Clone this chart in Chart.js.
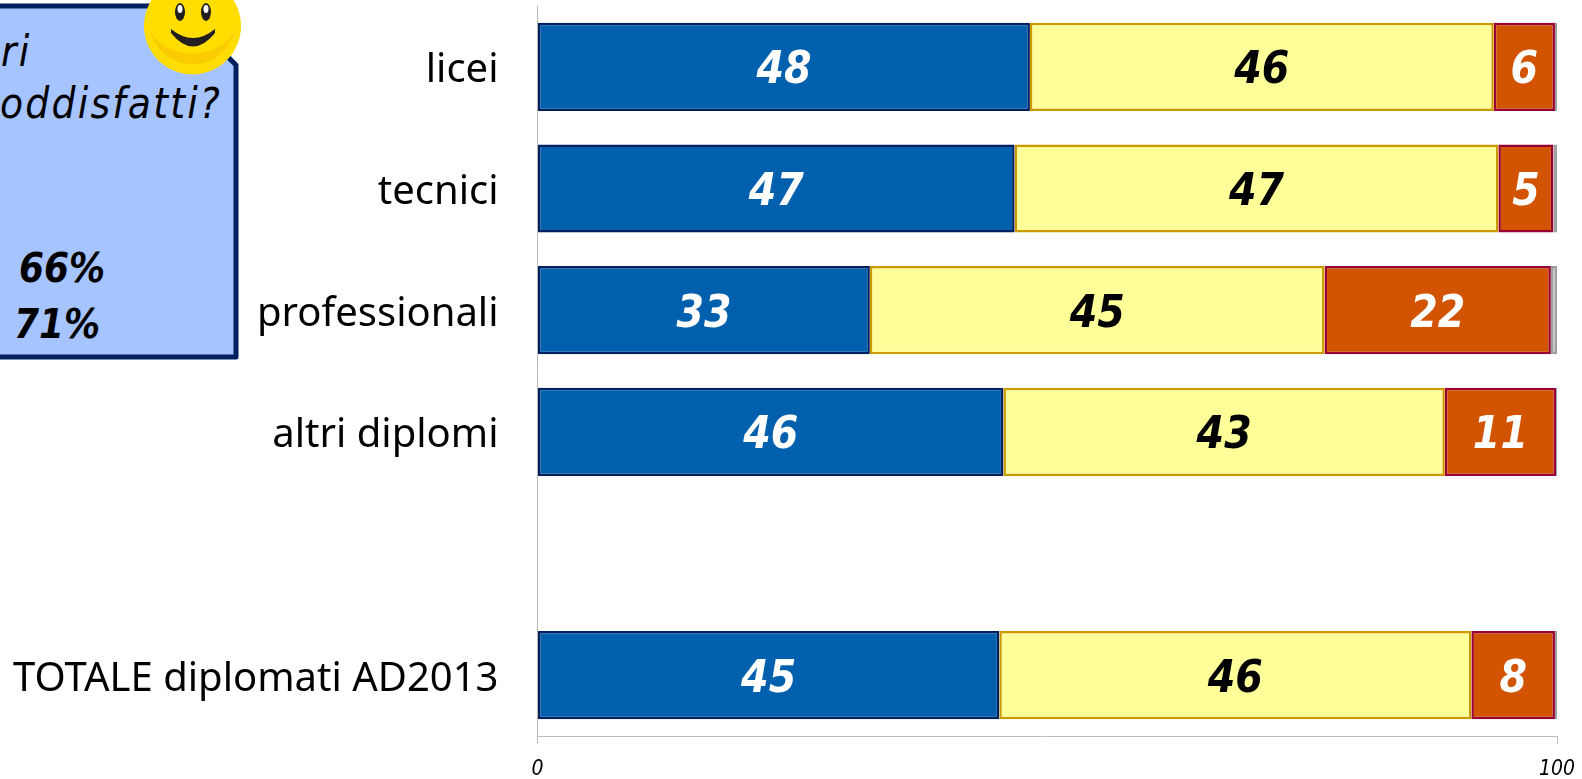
<!DOCTYPE html>
<html>
<head>
<meta charset="utf-8">
<title>Diplomati soddisfatti</title>
<script src="https://cdn.jsdelivr.net/npm/chart.js@4"></script>
<style>
    html, body { margin: 0; padding: 0; background: #fff; overflow: hidden; }
    #wrap { position: relative; width: 1582px; height: 779px; }
    #mycanvas, #box { position: absolute; left: 0; top: 0; }
    #box text { font-family: "DejaVu Sans Condensed", "DejaVu Sans", sans-serif; font-style: italic; fill: #000; }
</style>
</head>
<body>
<div id="wrap">
    <svg id="box" width="1582" height="779">
        <path d="M-10 6 H180 L228 57 L236 65 V357 H-10 Z" fill="#A6C4FF" stroke="#002060" stroke-width="5" stroke-linejoin="round"/>
        <text x="1" y="66" font-size="42" letter-spacing="2.2">ri</text>
        <text x="0" y="118" font-size="42" letter-spacing="2.2">oddisfatti?</text>
        <text x="19" y="282" font-size="40" font-weight="700">66%</text>
        <text x="14" y="338" font-size="40" font-weight="700">71%</text>
        <circle cx="192.5" cy="26" r="48.5" fill="#FFDD00"/>
        <path d="M150 28 A43 43 0 0 0 235 28 A43 30 0 0 1 150 28 Z" fill="#FACB00"/>
        <ellipse cx="180" cy="12" rx="5" ry="9" fill="#231F20"/>
        <ellipse cx="206" cy="12" rx="5" ry="9" fill="#231F20"/>
        <ellipse cx="180" cy="9" rx="2.5" ry="4" fill="#fff"/>
        <ellipse cx="206" cy="9" rx="2.5" ry="4" fill="#fff"/>
        <path d="M171 29 Q193 47 215 29 L215 33 Q193 60 171 33 Z" fill="#231F20"/>
    </svg>
    <canvas id="mycanvas" width="1582" height="779"></canvas>
</div>
<script>
var categories = ['licei', 'tecnici', 'professionali', 'altri diplomi', '', 'TOTALE diplomati AD2013'];
var molto = [48.3, 46.8, 32.6, 45.7, null, 45.3];
var abbastanza = [45.5, 47.45, 44.6, 43.3, null, 46.3];
var poco = [6.0, 5.4, 22.2, 10.9, null, 8.2];
var nonRisponde = [0.2, 0.35, 0.6, 0.2, null, 0.2];
var axisTicks = [0, 100];

var labelColors = ['#fff', '#000', '#fff', null];

// bar values, written in the middle of each segment
var barLabels = {
    id: 'barLabels',
    afterDatasetsDraw: function (chart) {
        var ctx = chart.ctx;
        ctx.save();
        ctx.font = 'italic bold 44px "DejaVu Sans Condensed", "DejaVu Sans"';
        ctx.textAlign = 'center';
        ctx.textBaseline = 'middle';
        chart.data.datasets.forEach(function (ds, d) {
            if (!labelColors[d]) return;
            ctx.fillStyle = labelColors[d];
            chart.getDatasetMeta(d).data.forEach(function (bar, i) {
                if (ds.data[i] === null) return;
                var c = bar.getCenterPoint();
                ctx.fillText(Math.round(ds.data[i]), c.x, c.y + 5);
            });
        });
        ctx.restore();
    }
};

function dataset(label, data, fill, line) {
    return {
        label: label,
        data: data,
        backgroundColor: fill,
        borderColor: line,
        borderWidth: 2.5,
        borderSkipped: false,
        barPercentage: 0.725,
        categoryPercentage: 1
    };
}

var barGraph = new Chart(document.getElementById('mycanvas'), {
    type: 'bar',
    data: {
        labels: categories,
        datasets: [
            dataset('molto', molto, '#0060AD', '#002060'),
            dataset('abbastanza', abbastanza, '#FFFF99', '#CC9900'),
            dataset('poco', poco, '#D35400', '#990033'),
            dataset('non risponde', nonRisponde, '#BDBDBD', '#A0A0A0')
        ]
    },
    plugins: [barLabels],
    options: {
        indexAxis: 'y',
        responsive: false,
        animation: false,
        layout: { padding: { top: 6, right: 25 } },
        plugins: { legend: { display: false }, tooltip: { enabled: false } },
        scales: {
            x: {
                stacked: true,
                min: 0,
                max: 100,
                afterBuildTicks: function (axis) {
                    axis.ticks = axisTicks.map(function (v) { return { value: v }; });
                },
                afterFit: function (axis) {
                    axis.height = 43;
                    axis.paddingLeft = 0;
                    axis.paddingRight = 0;
                },
                border: { color: '#BBBBBB', width: 1 },
                grid: { drawOnChartArea: false, color: '#BBBBBB', tickLength: 8 },
                ticks: {
                    maxRotation: 0,
                    padding: 13,
                    color: '#000',
                    font: { family: '"DejaVu Sans Condensed", "DejaVu Sans"', style: 'italic', size: 21 }
                }
            },
            y: {
                stacked: true,
                afterFit: function (axis) {
                    axis.width = 537.5;
                    axis.paddingTop = 0;
                    axis.paddingBottom = 0;
                },
                border: { color: '#BBBBBB', width: 1 },
                grid: { display: false, drawTicks: false },
                ticks: {
                    padding: 39,
                    autoSkip: false,
                    color: '#000',
                    // empty first line pushes the label a few px below the bar centre
                    callback: function (value) {
                        return ['', this.getLabelForValue(value)];
                    },
                    font: { family: '"Noto Sans"', size: 40, lineHeight: '8px' }
                }
            }
        }
    }
});
</script>
</body>
</html>
